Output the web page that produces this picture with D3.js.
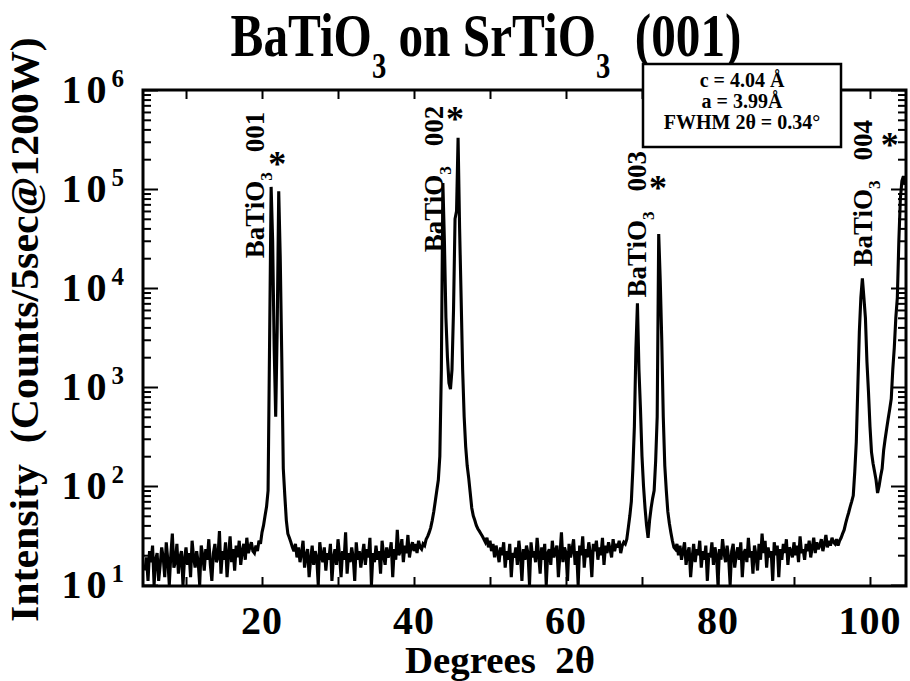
<!DOCTYPE html>
<html>
<head>
<meta charset="utf-8">
<script src="https://cdn.jsdelivr.net/npm/d3@7"></script>
<style>
  html, body { margin: 0; padding: 0; background: #fff; }
  svg { display: block; }
  text { font-family: "Liberation Serif", "Times New Roman", serif; font-weight: bold; fill: #000; white-space: pre; }
</style>
</head>
<body>
<svg id="chart" width="910" height="681"></svg>
<script>
// θ-2θ scan: uniform step, counts per step
const scanStart = 4.6;   // degrees 2θ of first point
const scanStep = 0.2;    // degrees 2θ per point

// background 4.6° – 18.8°
const bgLow = [
  14, 19, 11, 22, 17, 25, 10, 18, 21, 11, 16, 24, 19, 12, 27, 18, 10, 20, 33, 15,
  17, 26, 13, 19, 22, 10, 18, 24, 16, 21, 12, 28, 19, 15, 22, 17, 10, 25, 20, 14,
  23, 18, 29, 16, 11, 21, 26, 17, 19, 35, 13, 22, 18, 27, 12, 20, 31, 17, 23, 14,
  25, 19, 28, 16, 22, 26, 18, 30, 21, 24, 27, 22
];
// 001 doublet 19.0° – 24.0°
const refl001 = [
  21, 25, 22, 28, 26, 34, 40, 50, 62, 90, 3000, 105000, 30000, 2500, 500, 4000,
  95000, 20000, 2000, 150, 80, 45, 33, 30, 27, 24
];
// background 24.2° – 40.8°
const bgMid1 = [
  22, 26, 19, 24, 17, 21, 28, 15, 20, 23, 12, 18, 25, 16, 22, 19, 10, 27, 20, 17,
  24, 14, 21, 18, 26, 11, 19, 23, 16, 29, 20, 12, 22, 18, 34, 13, 21, 17, 24, 19,
  11, 27, 18, 22, 15, 20, 26, 16, 23, 19, 30, 10, 21, 17, 25, 18, 22, 13, 28, 20,
  16, 24, 19, 21, 27, 12, 23, 18, 36, 20, 22, 29, 17, 25, 21, 32, 19, 24, 27, 22,
  26, 21, 28, 24
];
// 002 doublet 41.0° – 48.8°
const refl002 = [
  23, 26, 25, 29, 31, 34, 38, 45, 55, 70, 90, 115, 200, 1500, 115000, 30000,
  5000, 2000, 1100, 950, 1500, 6000, 50000, 60000, 330000, 40000, 8000, 1500,
  500, 250, 160, 120, 85, 60, 50, 45, 40, 37, 35, 33
];
// background 49.0° – 67.6°
const bgMid2 = [
  31, 29, 27, 30, 24, 28, 22, 26, 19, 25, 21, 17, 24, 20, 27, 15, 22, 18, 26, 12,
  21, 19, 24, 16, 28, 20, 11, 23, 18, 25, 21, 10, 27, 19, 22, 17, 30, 20, 13, 24,
  18, 26, 10, 21, 23, 16, 28, 19, 22, 25, 12, 20, 34, 17, 24, 21, 11, 26, 19, 23,
  29, 16, 22, 10, 25, 20, 31, 15, 23, 19, 27, 21, 12, 26, 22, 28, 18, 24, 20, 30,
  16, 25, 21, 27, 23, 19, 29, 22, 26, 24, 28, 21, 25, 27
];
// 003 doublet 67.8° – 74.2°
const refl003 = [
  26, 29, 38, 50, 70, 150, 400, 2400, 7000, 1500, 600, 200, 100, 60, 40, 30,
  45, 60, 75, 90, 180, 500, 35000, 12000, 3000, 500, 160, 90, 55, 42, 34, 28, 24
];
// background 74.4° – 95.6°
const bgHigh = [
  23, 26, 20, 25, 18, 22, 27, 16, 21, 24, 12, 19, 26, 17, 23, 20, 28, 15, 22, 18,
  25, 11, 21, 19, 27, 16, 24, 20, 10, 23, 18, 29, 21, 17, 25, 19, 10, 22, 26, 15,
  20, 24, 18, 27, 12, 21, 23, 17, 30, 19, 22, 13, 25, 20, 14, 26, 18, 33, 21, 28,
  15, 24, 19, 22, 11, 27, 20, 25, 12, 23, 18, 26, 21, 29, 16, 24, 22, 19, 27, 20,
  25, 17, 31, 21, 23, 18, 26, 22, 28, 19, 24, 30, 21, 27, 23, 25, 29, 22, 26, 32,
  24, 28, 25, 30, 27, 26, 29
];
// 004 doublet 95.8° – 104.6°
const refl004 = [
  25, 28, 30, 33, 36, 42, 48, 54, 62, 70, 80, 140, 280, 1000, 3600, 8000, 12500,
  8000, 5000, 1800, 900, 400, 220, 170, 140, 115, 85, 100, 125, 150, 230, 300,
  380, 480, 600, 760, 1500, 2500, 5000, 8000, 30000, 80000, 120000, 135000, 110000
];

// axis ticks and labels
const xTicks = [10, 20, 30, 40, 50, 60, 70, 80, 90, 100];
const xTickLabels = [20, 40, 60, 80, 100];
const yDecadeExponents = [1, 2, 3, 4, 5, 6];

// reflection annotations
const reflectionNames = ["001", "002", "003", "004"];
const filmLabelAngle = [20.3, 43.8, 70.5, 100.3];
const filmLabelLevel = [2.0e4, 2.3e4, 8.0e3, 1.65e4];
const substrateMarkAngle = [22.0, 45.4, 72.1, 102.6];
const substrateMarkLevel = [1.9e5, 5.5e5, 1.1e5, 3.0e5];

const latticeLines = ["c = 4.04 Å", "a = 3.99Å", "FWHM 2θ = 0.34°"];

// ---------------------------------------------------------------
const counts = [].concat(bgLow, refl001, bgMid1, refl002, bgMid2, refl003, bgHigh, refl004);
const scan = counts.map((c, i) => ({ tth: scanStart + i * scanStep, c }));

const svg = d3.select("#chart");
const frame = { left: 143, right: 906, top: 90, bottom: 586 };

const x = d3.scaleLinear().domain([4.34, 104.74]).range([frame.left, frame.right]);
const y = d3.scaleLog().domain([10, 1e6]).range([frame.bottom - 1, frame.top]);

svg.append("rect").attr("width", 910).attr("height", 681).attr("fill", "#fff");

// clip for the trace
svg.append("clipPath").attr("id", "plotClip")
  .append("rect")
  .attr("x", frame.left).attr("y", frame.top)
  .attr("width", frame.right - frame.left).attr("height", frame.bottom - frame.top);

// trace
const line = d3.line().x(d => x(d.tth)).y(d => y(d.c));
svg.append("path")
  .datum(scan)
  .attr("clip-path", "url(#plotClip)")
  .attr("d", line)
  .attr("fill", "none")
  .attr("stroke", "#000")
  .attr("stroke-width", 3.1)
  .attr("stroke-linejoin", "miter")
  .attr("stroke-miterlimit", 3);

// tick marks (inward on all four sides)
const yMajor = yDecadeExponents.map(e => Math.pow(10, e));
const yMinor = [];
yDecadeExponents.slice(0, -1).forEach(e => {
  for (let m = 2; m <= 9; m++) yMinor.push(m * Math.pow(10, e));
});

function styleAxis(g) {
  g.select(".domain").remove();
  g.selectAll(".tick line").attr("stroke", "#000").attr("stroke-width", 2);
  g.selectAll(".tick text").remove();
}

svg.append("g").attr("transform", `translate(${frame.left},0)`)
  .call(d3.axisLeft(y).tickValues(yMajor).tickSize(-15)).call(styleAxis);
svg.append("g").attr("transform", `translate(${frame.left},0)`)
  .call(d3.axisLeft(y).tickValues(yMinor).tickSize(-8)).call(styleAxis);
svg.append("g").attr("transform", `translate(${frame.right},0)`)
  .call(d3.axisRight(y).tickValues(yMajor).tickSize(-15)).call(styleAxis);
svg.append("g").attr("transform", `translate(${frame.right},0)`)
  .call(d3.axisRight(y).tickValues(yMinor).tickSize(-8)).call(styleAxis);
svg.append("g").attr("transform", `translate(0,${frame.top})`)
  .call(d3.axisTop(x).tickValues(xTicks).tickSize(-9)).call(styleAxis);
svg.append("g").attr("transform", `translate(0,${frame.bottom})`)
  .call(d3.axisBottom(x).tickValues(xTicks).tickSize(-9)).call(styleAxis);

// frame
svg.append("rect")
  .attr("x", frame.left).attr("y", frame.top)
  .attr("width", frame.right - frame.left).attr("height", frame.bottom - frame.top)
  .attr("fill", "none").attr("stroke", "#000").attr("stroke-width", 3);

// x tick labels
svg.append("g").selectAll("text")
  .data(xTickLabels).join("text")
  .attr("x", d => x(d)).attr("y", 634)
  .attr("text-anchor", "middle")
  .attr("font-size", 40)
  .attr("letter-spacing", 1)
  .text(d => d);

// y tick labels: 10^n
const yLab = svg.append("g").selectAll("text")
  .data(yDecadeExponents).join("text")
  .attr("x", 124).attr("y", d => y(Math.pow(10, d)) + 13)
  .attr("text-anchor", "end")
  .attr("font-size", 40);
yLab.append("tspan").attr("letter-spacing", 5).text("10");
yLab.append("tspan").attr("font-size", 25).attr("dy", -16).text(d => d);

// helper: squeeze text to a measured length along its direction
function fitLength(textSel, target) {
  const w = textSel.node().getBBox().width;
  return target / w;
}

// title
const titleG = svg.append("g");
const title = titleG.append("text").attr("text-anchor", "middle").attr("font-size", 62);
title.append("tspan").text("BaTiO");
title.append("tspan").attr("font-size", 36).attr("dy", 22).text("3");
title.append("tspan").attr("dy", -22).text(" on SrTiO");
title.append("tspan").attr("font-size", 36).attr("dy", 22).text("3");
title.append("tspan").attr("dy", -22).text("  (001)");
titleG.attr("transform", `translate(486,56) scale(${fitLength(title, 511)},1)`);

// x axis title
const xTitleG = svg.append("g");
const xTitle = xTitleG.append("text").attr("text-anchor", "middle").attr("font-size", 38)
  .text("Degrees  2θ");
xTitleG.attr("transform", `translate(500,673) scale(${fitLength(xTitle, 190)},1)`);

// y axis title
const yTitleG = svg.append("g");
const yTitle = yTitleG.append("text").attr("text-anchor", "start").attr("font-size", 40)
  .text("Intensity  (Counts/5sec@1200W)");
yTitleG.attr("transform", `translate(38,622) rotate(-90) scale(${fitLength(yTitle, 585)},1)`);

// BaTiO3 reflection labels
reflectionNames.forEach((name, i) => {
  const g = svg.append("g")
    .attr("transform", `translate(${x(filmLabelAngle[i])},${y(filmLabelLevel[i])}) rotate(-90)`);
  const t = g.append("text").attr("font-size", 27);
  t.append("tspan").text("BaTiO");
  t.append("tspan").attr("font-size", 17).attr("dy", 8).text("3");
  t.append("tspan").attr("dy", -8).attr("dx", 20).text(name);
});

// SrTiO3 substrate markers
svg.append("g").selectAll("text")
  .data(substrateMarkAngle).join("text")
  .attr("x", d => x(d))
  .attr("y", (d, i) => y(substrateMarkLevel[i]) + 15)
  .attr("text-anchor", "middle")
  .attr("font-size", 36)
  .text("*");

// lattice parameter box
const box = svg.append("g");
box.append("rect")
  .attr("x", 643).attr("y", 64).attr("width", 198).attr("height", 83)
  .attr("fill", "#fff").attr("stroke", "#000").attr("stroke-width", 2.5);
box.selectAll("text")
  .data(latticeLines).join("text")
  .attr("x", 742).attr("y", (d, i) => 87 + i * 21)
  .attr("text-anchor", "middle")
  .attr("font-size", 20)
  .text(d => d);
</script>
</body>
</html>
